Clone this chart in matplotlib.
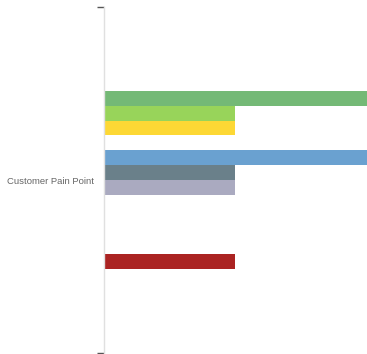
import numpy as np
import matplotlib
matplotlib.use("Agg")
import matplotlib.pyplot as plt

# Data: one category, twelve series (some empty)
category = "Customer Pain Point"
series_values = [2, 1, 1, 0, 2, 1, 1, 0, 0, 0, 0, 1]
series_colors = ["#74b976", "#98d45a", "#fdd835", "#ffffff",
                 "#6aa1d0", "#6a808a", "#aaaac0", "#ffffff",
                 "#ffffff", "#ffffff", "#ffffff", "#ab2322"]

fig = plt.figure(figsize=(3.67, 3.54), dpi=100)
ax = fig.add_axes([103.5 / 367, 1 / 354, 1 - 103.5 / 367, 346 / 354])

n = len(series_values)
group_width = 0.5145
slot = group_width / n
for i, (v, c) in enumerate(zip(series_values, series_colors)):
    if v == 0:
        continue
    y = -group_width / 2 + (i + 0.5) * slot
    ax.barh(y, v, height=slot, color=c, edgecolor="none")

ax.set_xlim(0, 2)
ax.set_ylim(0.5, -0.5)

ax.set_yticks([0])
ax.set_yticklabels([category], family="Liberation Sans", fontsize=6.8, color="#666666")
ax.tick_params(axis="y", which="major", length=0, pad=7)
ax.set_yticks([-0.5, 0.5], minor=True)
ax.tick_params(axis="y", which="minor", length=5, width=1, color="#555555")
ax.set_xticks([])

for s in ["top", "right", "bottom"]:
    ax.spines[s].set_visible(False)
ax.spines["left"].set_color("#e0e0e0")
ax.spines["left"].set_linewidth(1)

fig.savefig("out.png", dpi=100)
